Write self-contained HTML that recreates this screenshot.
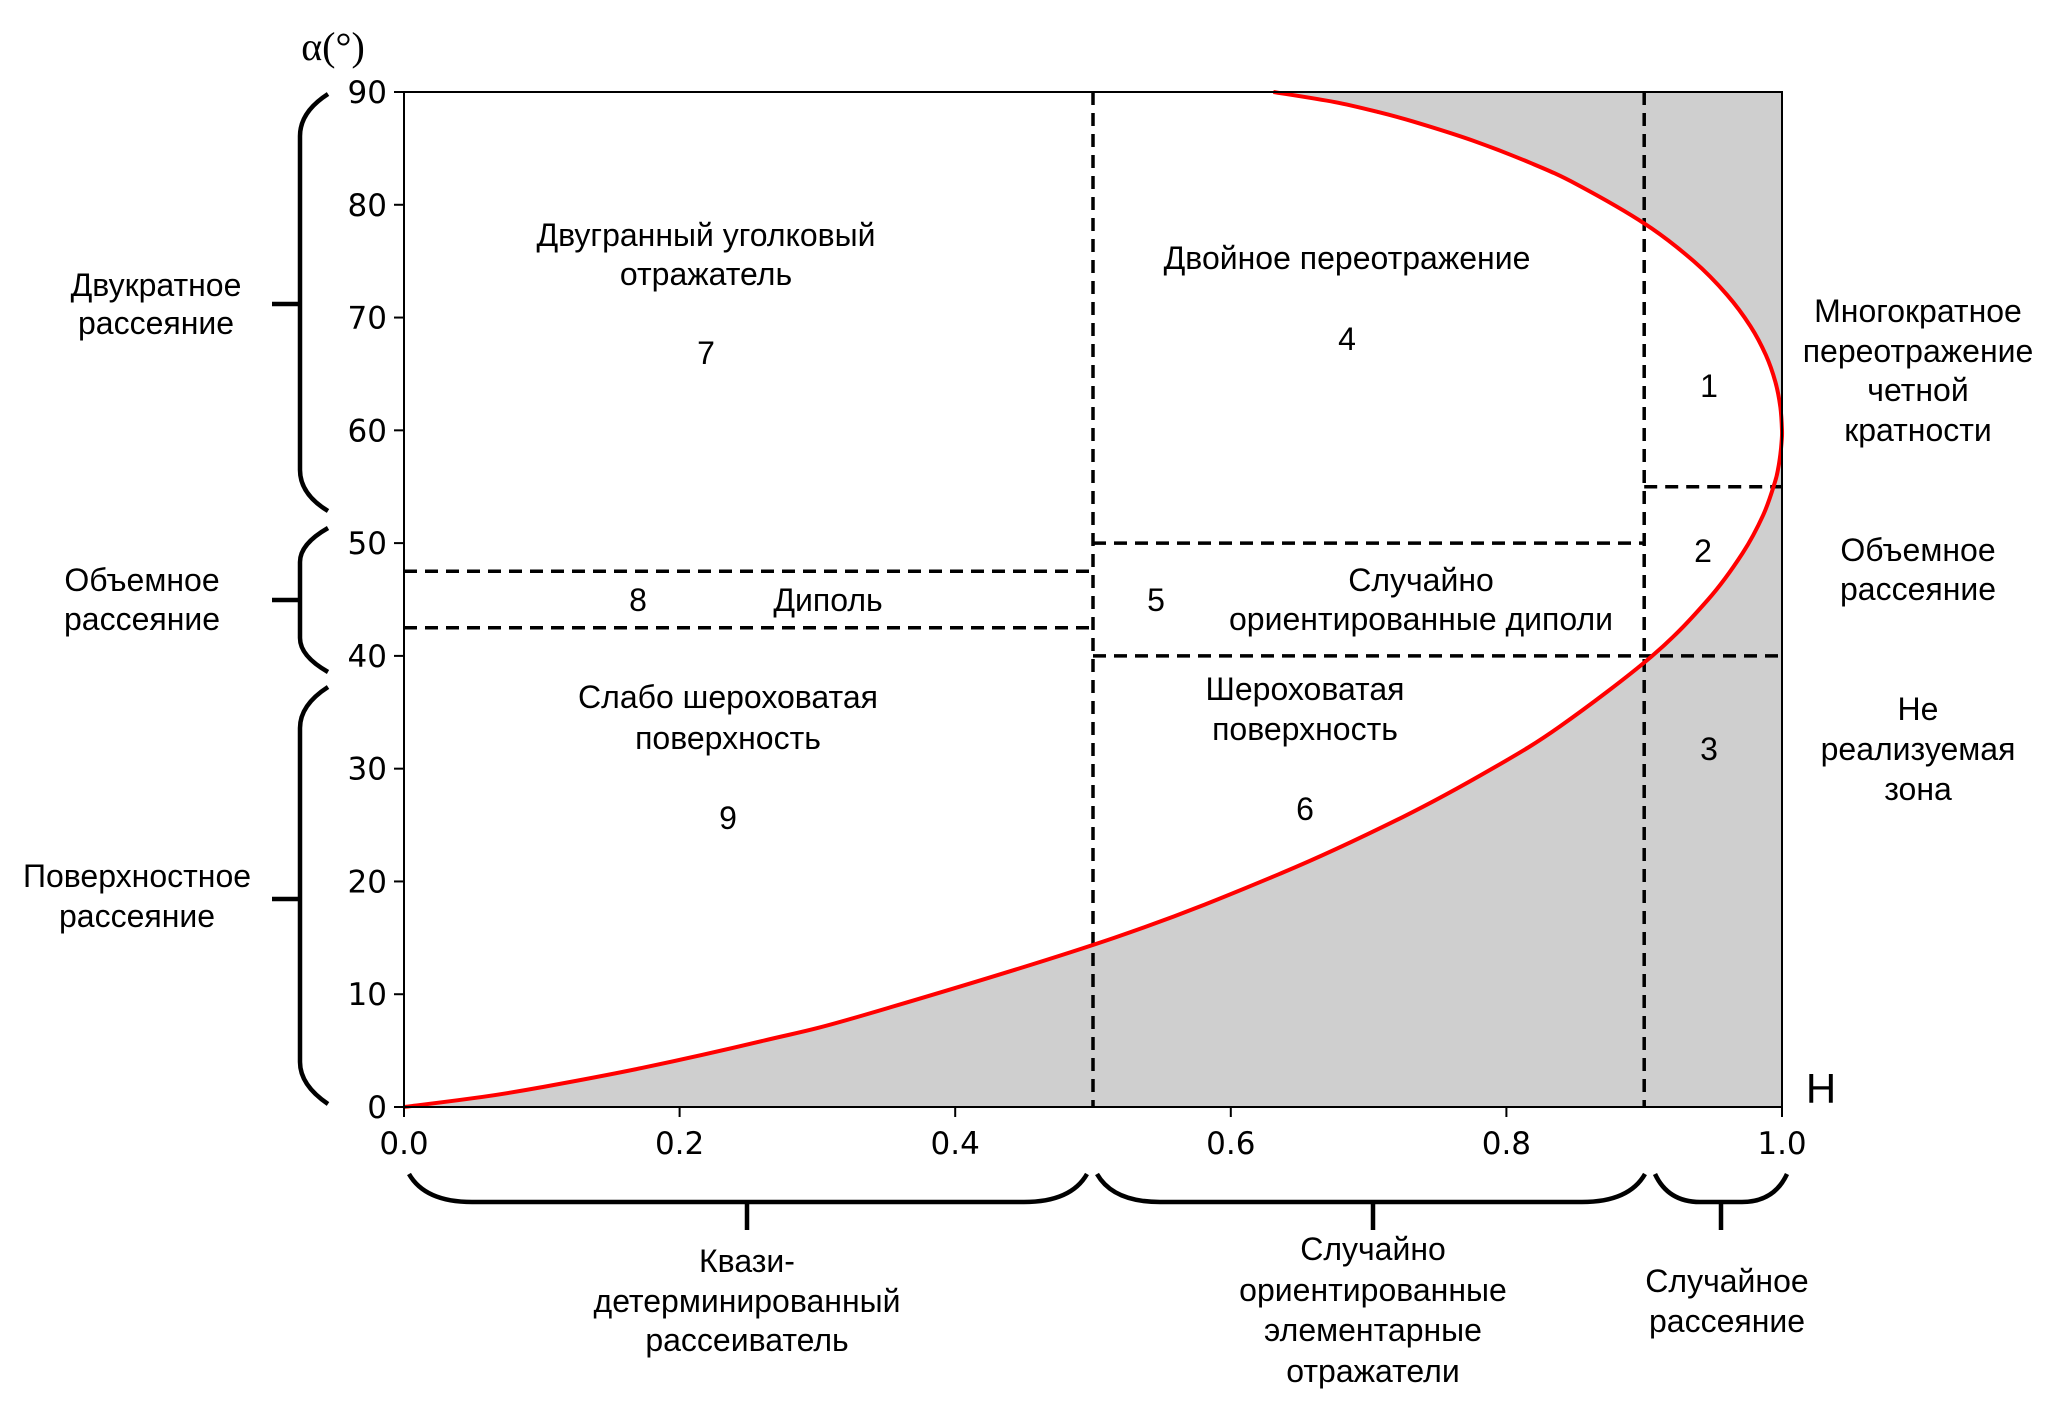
<!DOCTYPE html>
<html><head><meta charset="utf-8"><title>H-alpha plane</title>
<style>
html,body{margin:0;padding:0;background:#fff;}
svg{display:block;}
text{font-family:"Liberation Sans",Arial,sans-serif;fill:#000;}
.tick{font-family:"DejaVu Sans","Liberation Sans",sans-serif;font-size:31px;}
.lbl{font-size:32px;}
</style></head>
<body>
<svg id="chart" width="2067" height="1406" viewBox="0 0 2067 1406" xmlns="http://www.w3.org/2000/svg">
  <g id="plot"></g>
</svg>
<script>
// ---- data ----
const xTicks = [0.0, 0.2, 0.4, 0.6, 0.8, 1.0];
const xTickLabels = ["0.0", "0.2", "0.4", "0.6", "0.8", "1.0"];
const yTicks = [0, 10, 20, 30, 40, 50, 60, 70, 80, 90];
const yTickLabels = ["0", "10", "20", "30", "40", "50", "60", "70", "80", "90"];
// lower boundary curve (surface branch): entropy H and alpha
const curve1H = [0, 0.0568, 0.1002, 0.1727, 0.2613, 0.3346, 0.5153, 0.6374, 0.7248, 0.7897, 0.8389, 0.9058, 0.9464, 0.9713, 0.9864, 0.9948, 0.9973, 0.9988, 0.9997, 1.0];
const curve1A = [0, 0.891, 1.76, 3.46, 5.89, 8.18, 15.0, 20.77, 25.71, 30.0, 33.75, 40.0, 45.0, 49.09, 52.5, 55.38, 56.67, 57.86, 58.97, 60.0];
// upper boundary curve (double-bounce branch)
const curve2H = [1.0, 0.9988, 0.9952, 0.9883, 0.9771, 0.9602, 0.9359, 0.9011, 0.8509, 0.8173, 0.7752, 0.7324, 0.7064, 0.6753, 0.6309];
const curve2A = [60.0, 62.07, 64.29, 66.67, 69.23, 72.0, 75.0, 78.26, 81.82, 83.72, 85.71, 87.38, 88.24, 89.11, 90.0];
// zone boundaries
const vLinesH = [0.5, 0.9];
const hLineAlpha = [47.5, 42.5, 50, 40, 55];
const hLineFrom = [0, 0, 0.5, 0.5, 0.9];
const hLineTo = [0.5, 0.5, 0.9, 1.0, 1.0];

// ---- axes ----
const L = 404, R = 1782, T = 92, B = 1107;
const xS = h => L + h * (R - L);
const yS = a => B - a / 90 * (B - T);
const NS = "http://www.w3.org/2000/svg";
const plot = document.getElementById('plot');
function mk(tag, attrs, parent) {
  const e = document.createElementNS(NS, tag);
  for (const k in attrs) e.setAttribute(k, attrs[k]);
  (parent || plot).appendChild(e);
  return e;
}
function smoothPath(P) {
  let d = 'M' + P[0][0] + ',' + P[0][1];
  for (let i = 0; i < P.length - 1; i++) {
    const p0 = P[Math.max(0, i - 1)], p1 = P[i], p2 = P[i + 1], p3 = P[Math.min(P.length - 1, i + 2)];
    const c1x = p1[0] + (p2[0] - p0[0]) / 6, c1y = p1[1] + (p2[1] - p0[1]) / 6;
    const c2x = p2[0] - (p3[0] - p1[0]) / 6, c2y = p2[1] - (p3[1] - p1[1]) / 6;
    d += ' C' + c1x + ',' + c1y + ' ' + c2x + ',' + c2y + ' ' + p2[0] + ',' + p2[1];
  }
  return d;
}
const P = [];
for (let i = 0; i < curve1H.length; i++) P.push([xS(curve1H[i]), yS(curve1A[i])]);
for (let i = 1; i < curve2H.length; i++) P.push([xS(curve2H[i]), yS(curve2A[i])]);
const cd = smoothPath(P);

// gray background
const bg = mk('rect', {x: L, y: T, width: R - L, height: B - T, fill: '#cfcfcf'});



// white feasible region
const feas = mk('path', {d: cd + ' L' + xS(0) + ',' + yS(90) + ' Z', fill: '#fff'});



// dashed lines
for (let i = 0; i < vLinesH.length; i++) {
  const l = mk('line', {x1: xS(vLinesH[i]), x2: xS(vLinesH[i]), y1: T, y2: B, stroke: '#000', 'stroke-width': 3.5, 'stroke-dasharray': '13,8'});
  
  
}
for (let i = 0; i < hLineAlpha.length; i++) {
  const l = mk('line', {x1: xS(hLineFrom[i]), x2: xS(hLineTo[i]), y1: yS(hLineAlpha[i]), y2: yS(hLineAlpha[i]), stroke: '#000', 'stroke-width': 3.5, 'stroke-dasharray': '13,8'});
  
  
}

// red curve
const crv = mk('path', {d: cd, fill: 'none', stroke: '#ff0000', 'stroke-width': 4, 'stroke-linejoin': 'round'});



// frame
const fr = mk('rect', {x: L, y: T, width: R - L, height: B - T, fill: 'none', stroke: '#000', 'stroke-width': 2});



// ticks
for (let i = 0; i < xTicks.length; i++) {
  const x = xS(xTicks[i]);
  const t = mk('line', {x1: x, x2: x, y1: B, y2: B + 10, stroke: '#000', 'stroke-width': 2});
  
  
  const tx = mk('text', {x: x, y: B + 47, 'text-anchor': 'middle', class: 'tick'});
  tx.textContent = xTickLabels[i];
  
  
}
for (let i = 0; i < yTicks.length; i++) {
  const y = yS(yTicks[i]);
  const t = mk('line', {x1: L - 10, x2: L, y1: y, y2: y, stroke: '#000', 'stroke-width': 2});
  
  
  const tx = mk('text', {x: L - 17, y: y + 11, 'text-anchor': 'end', class: 'tick'});
  tx.textContent = yTickLabels[i];
  
  
}
</script>

<svg style="position:absolute;left:0;top:0" width="2067" height="1406">
  <text x="333" y="60" font-size="40" text-anchor="middle" style="font-family:'Liberation Serif',serif">α(°)</text>
  <text x="1821" y="1103" font-size="42" text-anchor="middle">H</text>

  <g class="lbl" text-anchor="middle" font-size="32">
    <text x="706" y="246">Двугранный уголковый</text>
    <text x="706" y="285">отражатель</text>
    <text x="706" y="364">7</text>
    <text x="1347" y="269">Двойное переотражение</text>
    <text x="1347" y="350">4</text>
    <text x="1709" y="397">1</text>
    <text x="1703" y="562">2</text>
    <text x="1709" y="760">3</text>
    <text x="638" y="611">8</text>
    <text x="828" y="611">Диполь</text>
    <text x="1156" y="611">5</text>
    <text x="1421" y="591">Случайно</text>
    <text x="1421" y="630">ориентированные диполи</text>
    <text x="728" y="708">Слабо шероховатая</text>
    <text x="728" y="749">поверхность</text>
    <text x="728" y="829">9</text>
    <text x="1305" y="700">Шероховатая</text>
    <text x="1305" y="740">поверхность</text>
    <text x="1305" y="820">6</text>
  </g>

  <g text-anchor="middle" font-size="32">
    <text x="1918" y="322">Многократное</text>
    <text x="1918" y="362">переотражение</text>
    <text x="1918" y="401">четной</text>
    <text x="1918" y="441">кратности</text>
    <text x="1918" y="561">Объемное</text>
    <text x="1918" y="600">рассеяние</text>
    <text x="1918" y="720">Не</text>
    <text x="1918" y="760">реализуемая</text>
    <text x="1918" y="800">зона</text>
  </g>

  <g text-anchor="middle" font-size="32">
    <text x="156" y="296">Двукратное</text>
    <text x="156" y="334">рассеяние</text>
    <text x="142" y="591">Объемное</text>
    <text x="142" y="630">рассеяние</text>
    <text x="137" y="887">Поверхностное</text>
    <text x="137" y="927">рассеяние</text>
  </g>

  <g text-anchor="middle" font-size="32">
    <text x="747" y="1272">Квази-</text>
    <text x="747" y="1312">детерминированный</text>
    <text x="747" y="1351">рассеиватель</text>
    <text x="1373" y="1260">Случайно</text>
    <text x="1373" y="1301">ориентированные</text>
    <text x="1373" y="1341">элементарные</text>
    <text x="1373" y="1382">отражатели</text>
    <text x="1727" y="1292">Случайное</text>
    <text x="1727" y="1332">рассеяние</text>
  </g>

  <g fill="none" stroke="#000" stroke-width="4.5">
    <path d="M328,94 Q300,112 300,136 L300,470 Q300,494 328,511 M272,304 L300,304"/>
    <path d="M328,528 Q300,544 300,562 L300,638 Q300,656 328,672 M272,600 L300,600"/>
    <path d="M328,687 Q300,705 300,728 L300,1062 Q300,1085 328,1104 M272,899 L300,899"/>
    <path d="M409,1174 Q425,1202 472,1202 L1024,1202 Q1071,1202 1087,1174 M747,1202 L747,1230"/>
    <path d="M1097,1174 Q1113,1202 1160,1202 L1582,1202 Q1629,1202 1645,1174 M1373,1202 L1373,1230"/>
    <path d="M1655,1174 Q1668,1202 1700,1202 L1742,1202 Q1774,1202 1787,1174 M1721,1202 L1721,1230"/>
  </g>
</svg>
</body></html>
